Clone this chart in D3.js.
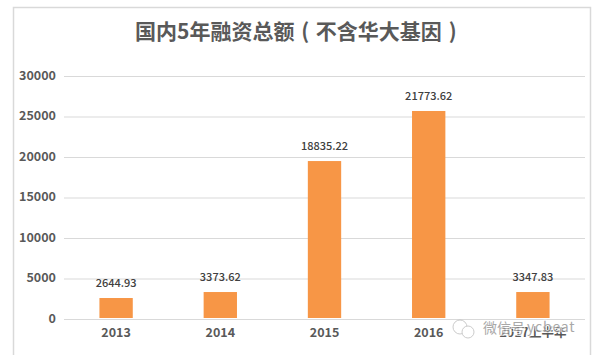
<!DOCTYPE html>
<html>
<head>
<meta charset="utf-8">
<script src="https://cdn.jsdelivr.net/npm/d3@7"></script>
<style>
  html, body { margin: 0; padding: 0; background: #fff; }
  text { font-family: "Noto Sans CJK SC", "Noto Sans", sans-serif; }
</style>
</head>
<body>
<div id="chart"></div>
<script>
const categories = ["2013", "2014", "2015", "2016", "2017上半年"];
// bar heights as drawn in the picture, they differ from the printed labels
const barValues = [2590, 3330, 19500, 25680, 3330];
const valueLabels = ["2644.93", "3373.62", "18835.22", "21773.62", "3347.83"];
const yTicks = [0, 5000, 10000, 15000, 20000, 25000, 30000];
const titleText = "国内5年融资总额 ( 不含华大基因 )";

const W = 592, H = 355;
const margin = { top: 76, right: 7, bottom: 36, left: 64 };
const width = W - margin.left - margin.right;
const height = H - margin.top - margin.bottom;

const root = d3.select("#chart").append("svg")
    .attr("width", W)
    .attr("height", H)
    .style("display", "block");

// outer chart frame, open at the bottom
root.append("path")
    .attr("d", `M13.5,${H} V7.5 H${W - 1.5} V${H}`)
    .attr("fill", "none")
    .attr("stroke", "#d9d9d9")
    .attr("stroke-width", 1.5);

// title
root.append("text")
    .attr("x", 135)
    .attr("y", 39)
    .attr("font-size", 21)
    .attr("font-weight", 700)
    .attr("word-spacing", 2)
    .attr("fill", "#595959")
    .text(titleText);

const svg = root.append("g")
    .attr("transform", `translate(${margin.left}, ${margin.top})`);

const x = d3.scaleBand()
    .domain(categories)
    .range([0, width])
    .paddingInner(0.68)
    .paddingOuter(0.34);
const y = d3.scaleLinear().domain([0, 30000]).range([height, 0]);

// Y axis with gridlines
const yAxis = svg.append("g")
    .call(d3.axisLeft(y).tickValues(yTicks).tickSize(-width).tickPadding(8).tickFormat(d3.format("d")));
yAxis.select(".domain").remove();
yAxis.selectAll("line").attr("stroke", "#d9d9d9").attr("stroke-width", 1);
yAxis.selectAll("text")
    .attr("dy", "0.25em")
    .attr("font-size", 12.5)
    .attr("font-weight", 700)
    .attr("fill", "#595959");

// bars
svg.append("g")
    .selectAll("rect")
    .data(categories)
    .join("rect")
    .attr("x", d => x(d))
    .attr("y", (d, i) => y(barValues[i]))
    .attr("width", x.bandwidth())
    .attr("height", (d, i) => y(0) - y(barValues[i]) - 1)
    .attr("fill", "#f79646");

// value labels
svg.append("g")
    .selectAll("text")
    .data(categories)
    .join("text")
    .attr("x", d => x(d) + x.bandwidth() / 2)
    .attr("y", (d, i) => y(barValues[i]) - 11)
    .attr("text-anchor", "middle")
    .attr("font-size", 11)
    .attr("font-weight", 500)
    .attr("fill", "#404040")
    .text((d, i) => valueLabels[i]);

// X axis labels
const xAxis = svg.append("g")
    .attr("transform", `translate(0, ${height})`)
    .call(d3.axisBottom(x).tickSize(0).tickPadding(9));
xAxis.select(".domain").remove();
xAxis.selectAll("text")
    .attr("font-size", 12.5)
    .attr("font-weight", 700)
    .attr("fill", "#595959");

// watermark
const mark = root.append("g").attr("opacity", 0.75);
mark.append("circle").attr("cx", 460).attr("cy", 327).attr("r", 7)
    .attr("fill", "#fff").attr("stroke", "#bbb");
mark.append("circle").attr("cx", 468).attr("cy", 332).attr("r", 6)
    .attr("fill", "#fff").attr("stroke", "#bbb");
mark.append("text")
    .attr("x", 483)
    .attr("y", 333)
    .attr("font-size", 14)
    .attr("fill", "#8c8c8c")
    .attr("stroke", "#fff")
    .attr("stroke-width", 2)
    .attr("paint-order", "stroke")
    .text("微信号");
mark.append("text")
    .attr("x", 527)
    .attr("y", 332)
    .attr("font-size", 14)
    .attr("letter-spacing", 0.8)
    .attr("fill", "#8c8c8c")
    .attr("stroke", "#fff")
    .attr("stroke-width", 2)
    .attr("paint-order", "stroke")
    .text("ycbeat");
</script>
</body>
</html>
